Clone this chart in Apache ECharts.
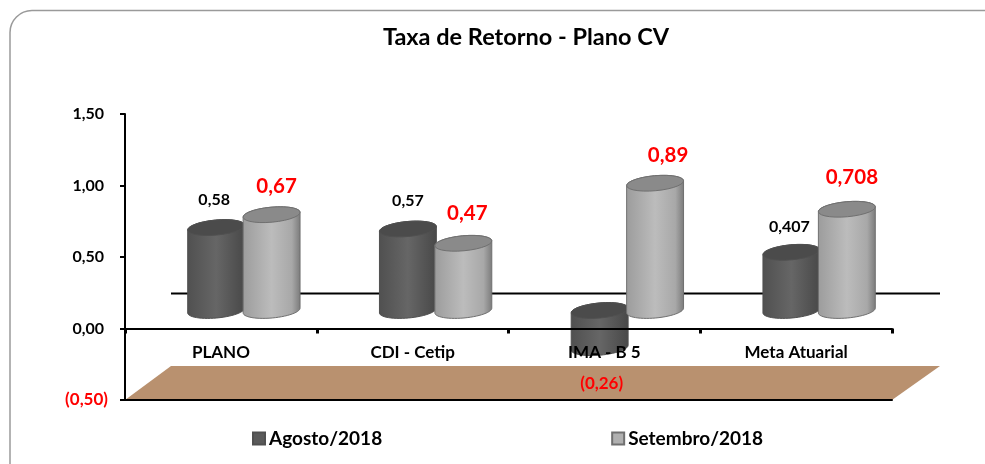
<!DOCTYPE html>
<html>
<head>
<meta charset="utf-8">
<style>
  html, body { margin: 0; padding: 0; background: #fff; }
  #chart { width: 985px; height: 464px; }
</style>
<script src="https://cdn.jsdelivr.net/npm/echarts@6/dist/echarts.min.js"></script>
</head>
<body>
<div id="chart"></div>
<script>
const categories = ["PLANO", "CDI - Cetip", "IMA - B 5", "Meta Atuarial"];
const agosto = [0.58, 0.57, -0.26, 0.407];
const setembro = [0.67, 0.47, 0.89, 0.708];
const agostoText = ["0,58", "0,57", "(0,26)", "0,407"];
const setembroText = ["0,67", "0,47", "0,89", "0,708"];
const yTicks = { min: -0.5, max: 1.5, interval: 0.5 };

// fake 3D depth, in px
const depthX = 23;
const depthY = -18;
const floorDx = 46;
const floorDy = -34;
const wallDy = -35;
const tilt = -0.09;
const font = "Lato, 'Open Sans', sans-serif";

// excel labels were placed by hand, so each one gets its own nudge
const agostoNudge = [[-2, -28], [0, -28], [2, 36], [-2, -25]];
const setembroNudge = [[5, -28], [4, -30], [13, -28], [5, -32]];

function ellipsePts(cx, cy, rx, ry, from, to) {
  const pts = [];
  const steps = 28;
  for (let i = 0; i <= steps; i++) {
    const a = from + (to - from) * i / steps;
    const ex = rx * Math.cos(a);
    const ey = ry * Math.sin(a);
    pts.push([
      cx + ex * Math.cos(tilt) - ey * Math.sin(tilt),
      cy + ex * Math.sin(tilt) + ey * Math.cos(tilt),
    ]);
  }
  return pts;
}

function cylinderSeries(name, values, texts, nudges, side, look) {
  return {
    name: name,
    type: "custom",
    z: look.z,
    clip: false,
    itemStyle: { color: look.legend, borderColor: look.edge, borderWidth: 1 },
    data: values.map((v, i) => [i, v]),
    encode: { x: 0, y: 1 },
    renderItem: function (params, api) {
      const i = api.value(0);
      const band = api.size([1, 0])[0];
      const rx = band * 0.149;
      const ry = 7.5;
      const x = api.coord([i, 0])[0] + depthX + side * rx * 0.97;
      const baseY = api.coord([i, 0])[1] + depthY;
      const topY = api.coord([i, api.value(1)])[1] + depthY;
      // negative bar: the ellipse on show is still the upper end
      const upper = Math.min(baseY, topY);
      const lower = Math.max(baseY, topY);
      const body = ellipsePts(x, lower, rx, ry, 0, Math.PI)
        .concat(ellipsePts(x, upper, rx, ry, Math.PI, 2 * Math.PI));
      const nudge = nudges[i];
      return {
        type: "group",
        children: [
          {
            type: "polygon",
            shape: { points: body },
            style: {
              fill: new echarts.graphic.LinearGradient(0, 0, 1, 0, look.stops),
              stroke: look.edge,
              lineWidth: 1,
            },
          },
          {
            type: "polygon",
            shape: { points: ellipsePts(x, upper, rx, ry, 0, 2 * Math.PI) },
            style: { fill: look.cap, stroke: look.edge, lineWidth: 1 },
          },
          {
            type: "text",
            z2: 50,
            style: {
              x: x + nudge[0],
              y: (values[i] < 0 ? lower : upper) + nudge[1],
              text: texts[i],
              align: "center",
              verticalAlign: "middle",
              fontFamily: font,
              fontWeight: "bold",
              fontSize: values[i] < 0 ? 17 : look.labelSize,
              fill: values[i] < 0 ? "#ff0000" : look.labelColor,
            },
          },
        ],
      };
    },
  };
}

const floorSeries = {
  name: "floor",
  type: "custom",
  z: 1,
  clip: false,
  silent: true,
  data: [[0, yTicks.min]],
  encode: { x: 0, y: 1 },
  renderItem: function (params, api) {
    const band = api.size([1, 0])[0];
    const last = categories.length - 1;
    const left = api.coord([0, yTicks.min])[0] - band / 2;
    const right = api.coord([last, yTicks.min])[0] + band / 2;
    const bottom = api.coord([0, yTicks.min])[1];
    const zero = api.coord([0, 0])[1];
    return {
      type: "group",
      children: [
        {
          type: "polygon",
          shape: {
            points: [
              [left, bottom],
              [left + floorDx, bottom + floorDy],
              [right + floorDx + 2, bottom + floorDy],
              [right, bottom],
            ],
          },
          style: { fill: "#b9916f" },
        },
        {
          type: "line",
          shape: { x1: left + floorDx, y1: zero + wallDy, x2: right + floorDx + 2, y2: zero + wallDy },
          style: { stroke: "#000", lineWidth: 2 },
        },
      ],
    };
  },
};

const chart = echarts.init(document.getElementById("chart"));
chart.setOption({
  animation: false,
  backgroundColor: "#fff",
  graphic: [
    {
      type: "rect",
      silent: true,
      shape: { x: 10, y: 10.5, width: 1000, height: 490, r: 22 },
      style: { fill: "none", stroke: "#9a9a9a", lineWidth: 1.5 },
    },
  ],
  title: {
    text: "Taxa de Retorno - Plano CV",
    left: 521,
    top: 20,
    textAlign: "center",
    textStyle: { fontFamily: font, fontWeight: "bold", fontSize: 23.5, color: "#000" },
  },
  legend: {
    data: ["Agosto/2018", "Setembro/2018"],
    left: 247,
    top: 424,
    itemWidth: 12,
    itemHeight: 12,
    itemGap: 229,
    icon: "rect",
    textStyle: { fontFamily: font, fontWeight: "bold", fontSize: 19, color: "#000", padding: [0, 0, 0, -1] },
  },
  grid: { left: 125, top: 114, width: 767, height: 286 },
  xAxis: [
    {
      type: "category",
      data: categories,
      z: 5,
      axisLine: { onZero: true, lineStyle: { color: "#000", width: 2 } },
      axisTick: { show: true, length: 5, lineStyle: { color: "#000", width: 3 } },
      // v6 keeps the labels at the grid bottom even with onZero, so pull them back up
      axisLabel: { margin: -56, fontFamily: font, fontWeight: "bold", fontSize: 17, color: "#000" },
    },
    {
      type: "category",
      data: categories,
      position: "bottom",
      z: 5,
      axisLine: { onZero: false, lineStyle: { color: "#000", width: 2 } },
      axisTick: { show: false },
      axisLabel: { show: false },
    },
  ],
  yAxis: {
    type: "value",
    min: yTicks.min,
    max: yTicks.max,
    interval: yTicks.interval,
    z: 5,
    splitLine: { show: false },
    axisLine: { show: true, onZero: false, lineStyle: { color: "#000", width: 2 } },
    axisTick: { show: true, length: 5, lineStyle: { color: "#000", width: 2 } },
    axisLabel: {
      margin: 21,
      fontFamily: font,
      fontWeight: "bold",
      fontSize: 16,
      color: "#000",
      formatter: (v) => {
        const s = Math.abs(v).toFixed(2).replace(".", ",");
        return v < 0 ? "{neg|(" + s + ")}" : s;
      },
      rich: {
        neg: {
          fontFamily: font,
          fontWeight: "bold",
          fontSize: 17,
          color: "#ff0000",
          padding: [0, -4, 0, 0],
        },
      },
    },
  },
  series: [
    floorSeries,
    cylinderSeries("Agosto/2018", agosto, agostoText, agostoNudge, -1, {
      z: 2,
      legend: "#5a5a5a",
      edge: "#505050",
      cap: "#4b4b4b",
      labelSize: 16,
      labelColor: "#000",
      stops: [
        { offset: 0, color: "#505050" },
        { offset: 0.5, color: "#666666" },
        { offset: 1, color: "#484848" },
      ],
    }),
    cylinderSeries("Setembro/2018", setembro, setembroText, setembroNudge, 1, {
      z: 3,
      legend: "#b0b0b0",
      edge: "#707070",
      cap: "#8a8a8a",
      labelSize: 20.5,
      labelColor: "#ff0000",
      stops: [
        { offset: 0, color: "#9c9c9c" },
        { offset: 0.5, color: "#bcbcbc" },
        { offset: 0.85, color: "#a8a8a8" },
        { offset: 1, color: "#7a7a7a" },
      ],
    }),
  ],
});
</script>
</body>
</html>
